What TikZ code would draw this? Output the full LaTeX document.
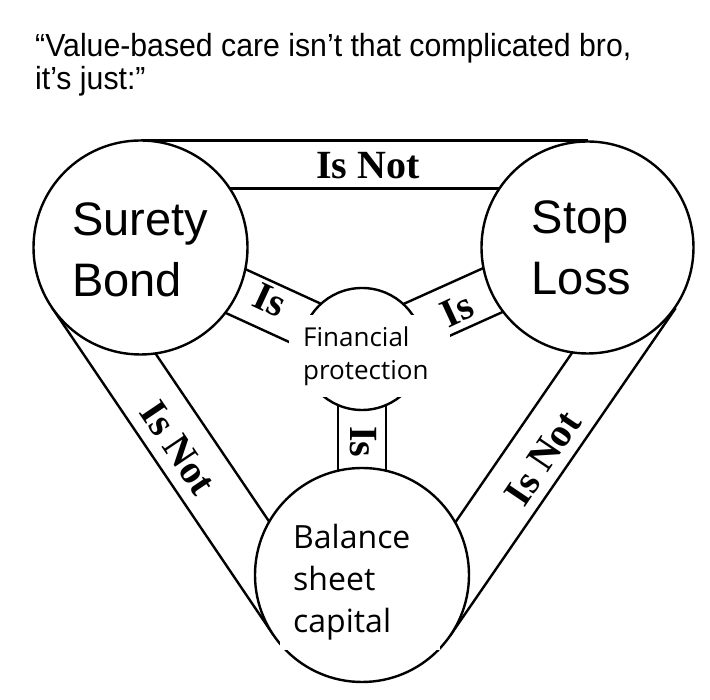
\documentclass[tikz,border=0pt]{standalone}
\usepackage{fontspec}
\setmainfont{Liberation Serif}
\setsansfont{Liberation Sans}
\newfontfamily\protfont{Open Sans}
\usetikzlibrary{calc, backgrounds}

\begin{document}
\begin{tikzpicture}[
    x=1pt, y=1pt,
    rim/.style={line width=2.4pt},
    disc/.style={circle, draw, line width=2.4pt, fill=white, minimum size=#1, inner sep=0pt},
    coverbox/.style={fill=white, inner sep=0pt, minimum width=#1},
    bigname/.style={align=left, inner sep=0pt, font=\sffamily\fontsize{47}{61}\selectfont},
    isword/.style={inner sep=0pt, font=\bfseries\fontsize{40}{40}\selectfont},
]
    \useasboundingbox (0,0) rectangle (710,700);
    \node[disc=214pt] (surety) at (140.5,452.5) {};
    \node[disc=212pt] (stoploss) at (587.5,452.5) {};
    \node[disc=214pt] (balance) at (362,125) {};
    \node[disc=122pt] (protection) at (362,351) {};
    \begin{scope}[on background layer]
        \fill[white] (0,0) rectangle (710,700);
        \draw[rim, line width=3pt] ($(surety)!107pt!90:(stoploss)$) -- ($(stoploss)!107pt!-90:(surety)$);
        \draw[rim, line width=3pt] ($(surety)!59pt!90:(stoploss)$) -- ($(stoploss)!59pt!-90:(surety)$);
        \draw[rim] ($(balance)!107pt!90:(surety)$) -- ($(surety)!107pt!-90:(balance)$);
        \draw[rim] ($(balance)!47pt!90:(surety)$) -- ($(surety)!47pt!-90:(balance)$);
        \draw[rim] ($(stoploss)!107pt!90:(balance)$) -- ($(balance)!107pt!-90:(stoploss)$);
        \draw[rim] ($(stoploss)!47pt!90:(balance)$) -- ($(balance)!47pt!-90:(stoploss)$);
        \draw[rim] ($(protection)!24pt!90:(surety)$) -- ($(surety)!24pt!-90:(protection)$);
        \draw[rim] ($(protection)!24pt!-90:(surety)$) -- ($(surety)!24pt!90:(protection)$);
        \draw[rim] ($(protection)!24pt!90:(stoploss)$) -- ($(stoploss)!24pt!-90:(protection)$);
        \draw[rim] ($(protection)!24pt!-90:(stoploss)$) -- ($(stoploss)!24pt!90:(protection)$);
        \draw[rim] ($(protection)!24pt!90:(balance)$) -- ($(balance)!24pt!-90:(protection)$);
        \draw[rim] ($(protection)!24pt!-90:(balance)$) -- ($(balance)!24pt!90:(protection)$);
    \end{scope}
    \node[coverbox=161pt, minimum height=82pt] (protbox) at (369.5,344) {};
    \node[coverbox=160pt, minimum height=127pt] (balbox) at (360,113.5) {};

    \node[anchor=west, align=left, inner sep=0pt, font=\sffamily\fontsize{32}{33}\selectfont] (quote) at (35,635.3)
        {\scalebox{0.945}[1]{“Value-based care isn’t that complicated bro,}\\\scalebox{0.945}[1]{it’s just:”}};
    \node[bigname] (suretytxt) at (140,450.5) {Surety\\Bond};
    \node[bigname] (stoplosstxt) at (581.5,452) {Stop\\Loss};
    \node[anchor=west, align=left, inner sep=0pt, font=\protfont\fontsize{32}{42}\selectfont] (balancetxt) at (293,118.3)
        {Balance\\sheet\\capital};
    \node[anchor=west, align=left, inner sep=0pt, font=\protfont\fontsize{26}{33}\selectfont] (protectiontxt) at (303,343.3)
        {Financial\\protection};

    \node[isword] (topnot) at (368,534) {Is Not};
    \node[isword, rotate=-56] (leftnot) at (178,252) {Is Not};
    \node[isword, rotate=56] (rightnot) at (543,242) {Is Not};
    \node[isword, rotate=-25] (leftis) at (270,400) {Is};
    \node[isword, rotate=25] (rightis) at (457,390) {Is};
    \node[isword, rotate=-90] (bottomis) at (363,258) {Is};
\end{tikzpicture}
\end{document}
